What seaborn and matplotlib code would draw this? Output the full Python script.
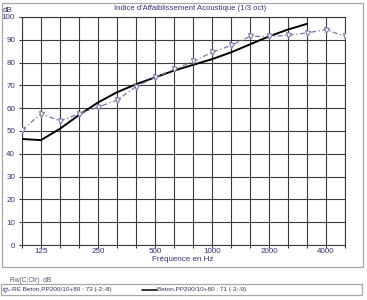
import numpy as np
import pandas as pd
import matplotlib
matplotlib.use('Agg')
import matplotlib.pyplot as plt
from matplotlib.lines import Line2D
from matplotlib.patches import Rectangle
import seaborn as sns

# 1/3 octave bands
bands = [100, 125, 160, 200, 250, 315, 400, 500, 630, 800, 1000,
         1250, 1600, 2000, 2500, 3150, 4000, 5000]
tick_bands = [125, 250, 500, 1000, 2000, 4000]

re_beton = [50.5, 57.5, 54.5, 57.5, 60.5, 63.5, 69.5, 73.5, 77, 80.5, 84.5,
            87.5, 91.5, 91.5, 92, 93, 94.5, 91.5]
beton = [46.5, 46, 51, 57, 62.5, 67, 70.5, 73.5, 76.5, 79, 81.5,
         84.5, 88, 91.5, 94.5, 97]

label_re = '-RE Beton,PP200/10+80 : 73 (-2;-8)'
label_b = 'Beton,PP200/10+80 : 71 (-3;-9)'

sns.set_theme(style='white')
plt.rcParams['font.family'] = ['Liberation Sans', 'DejaVu Sans']

TXT = '#333377'
GRID = '#3a3a3a'
SERIES = '#7878a8'

idx = np.arange(len(bands))
df_re = pd.DataFrame({'i': idx, 'db': re_beton})
df_b = pd.DataFrame({'i': idx[:len(beton)], 'db': beton})

fig = plt.figure(figsize=(3.67, 3.0), dpi=100)
fig.patch.set_facecolor('white')
ax = fig.add_axes([22/367, 1-245/300, 323/367, 228/300])

# outer frames
fig.add_artist(Rectangle((2/367, 1-267/300), 361/367, 264/300, transform=fig.transFigure,
                         fill=False, edgecolor='#a8a8a8', lw=0.9))
fig.add_artist(Rectangle((1/367, 1-295/300), 361/367, 11/300, transform=fig.transFigure,
                         fill=False, edgecolor='#a8a8a8', lw=0.9))

sns.lineplot(data=df_b, x='i', y='db', ax=ax, color='black', lw=1.4, zorder=3)
sns.lineplot(data=df_re, x='i', y='db', ax=ax, color=SERIES, lw=0.9,
             linestyle=(0, (4, 2, 1, 2)), marker='v', markersize=3.6,
             markerfacecolor='white', markeredgecolor=SERIES, markeredgewidth=0.8,
             zorder=4)

ax.set_xlim(0, len(bands) - 1)
ax.set_ylim(0, 100)
ax.set_xticks(idx, minor=True)
ax.set_xticks([bands.index(b) for b in tick_bands])
ax.set_xticklabels([str(b) for b in tick_bands])
ax.set_yticks(np.arange(0, 101, 10))
ax.grid(True, which='both', color=GRID, lw=0.8)
ax.tick_params(axis='both', which='both', direction='out', length=2, width=0.8,
               color=GRID, labelsize=5.8, labelcolor=TXT, bottom=True, left=True)
ax.tick_params(axis='x', which='both', pad=0.5)
ax.tick_params(axis='y', which='both', pad=3)
for sp in ax.spines.values():
    sp.set_color(GRID)
    sp.set_linewidth(0.8)
ax.set_xlabel('')
ax.set_ylabel('')

fig.text(183/367, 1-259.5/300, 'Fréquence en Hz', ha='center', va='center',
         fontsize=5.8, color=TXT)
fig.text(190/367, 1-9/300, "Indice d'Affaiblissement Acoustique (1/3 oct)",
         ha='center', va='center', fontsize=5.6, color=TXT)
fig.text(3/367, 1-10/300, 'dB', ha='left', va='center', fontsize=5.8, color=TXT)
fig.text(10/367, 1-280/300, 'Rw(C;Ctr)  dB', ha='left', va='center',
         fontsize=4.8, color='#555577')

# legend entries
ly = 1 - 289.5/300
fig.add_artist(Line2D([2/367, 9/367], [ly, ly], transform=fig.transFigure,
                      color=SERIES, lw=0.8, linestyle=(0, (2, 1, 1, 1))))
fig.add_artist(Line2D([5/367], [ly], transform=fig.transFigure, marker='v',
                      markersize=3.2, markerfacecolor='white', markeredgecolor=SERIES,
                      markeredgewidth=0.7, linestyle='none'))
fig.text(9.5/367, ly, label_re, ha='left', va='center', fontsize=4.6, color='#333355')
fig.add_artist(Line2D([142/367, 157/367], [ly, ly], transform=fig.transFigure,
                      color='black', lw=1.1))
fig.text(157/367, ly, label_b, ha='left', va='center', fontsize=4.6, color='#333355')

fig.savefig('out.png', dpi=100, facecolor='white')
